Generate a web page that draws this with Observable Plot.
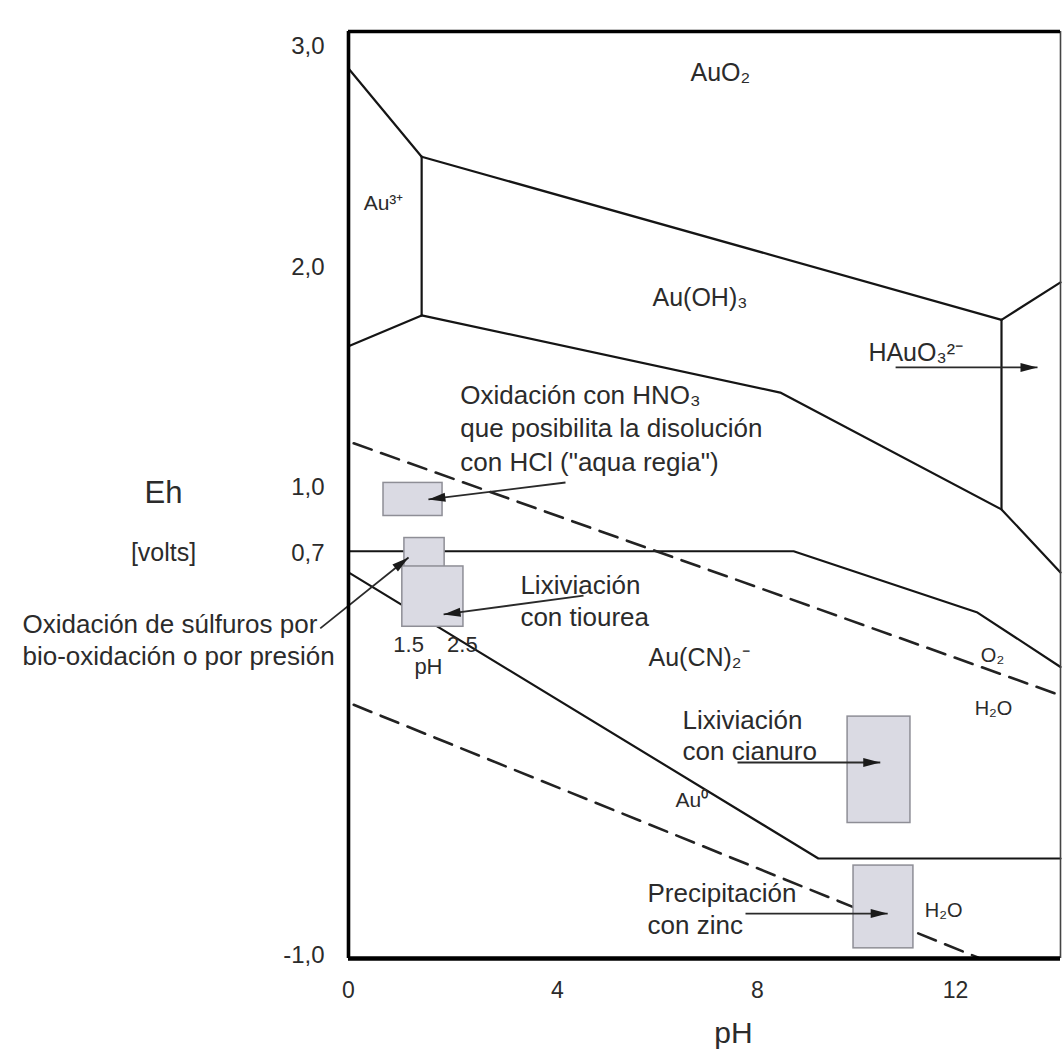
<!DOCTYPE html>
<html>
<head>
<meta charset="utf-8">
<script src="https://cdn.jsdelivr.net/npm/d3@7"></script>
<script src="https://cdn.jsdelivr.net/npm/@observablehq/plot@0.6"></script>
<style>
  html, body { margin: 0; padding: 0; background: #ffffff; }
  #chart svg { display: block; }
</style>
</head>
<body>
<div id="chart"></div>
<script>
// ---------- axes ----------
const pHTicks = [0, 4, 8, 12];
const ehTicks = [3.0, 2.0, 1.0, 0.7, -1.0];
const pHBreaks = [0, 4, 8, 12, 14.1];      // the drawing is schematic: not evenly spaced
const ehBreaks = [-1.013, 0.7, 3.068];

// ---------- stability-field boundaries [pH, Eh] ----------
const au3_auo2    = [[0, 2.90], [1.4, 2.50]];
const au3_auoh3   = [[1.4, 2.50], [1.4, 1.78]];
const auo2_auoh3  = [[1.4, 2.50], [12.92, 1.76]];
const auo2_hauo3  = [[12.92, 1.76], [14.1, 1.93]];
const auoh3_hauo3 = [[12.92, 1.76], [12.92, 0.90]];
const au3_lower   = [[0, 1.64], [1.4, 1.78]];
const auoh3_lower = [[1.4, 1.78], [8.46, 1.43], [12.92, 0.90], [14.1, 0.62]];
const aucn_upper  = [[0, 0.71], [8.73, 0.71], [12.44, 0.45], [14.1, 0.22]];
const au0_aucn    = [[0, 0.62], [9.23, -0.59], [14.1, -0.59]];

// ---------- water stability limits (dashed) ----------
const o2_h2o = [[0.1, 1.20], [14.1, 0.10]];
const h2o_h2 = [[0.1, 0.06], [12.46, -1.01]];

// ---------- process windows ----------
const windowNames = ["HNO3", "bio-oxidación", "tiourea", "cianuro", "zinc"];
const windowPH1 = [0.67, 1.07, 1.03, 9.82, 9.94];
const windowPH2 = [1.80, 1.84, 2.20, 11.09, 11.15];
const windowEh1 = [0.87, 0.64, 0.39, -0.44, -0.97];
const windowEh2 = [1.02, 0.77, 0.645, 0.01, -0.62];

// ---------- arrows (from -> to) ----------
const arrowPH1 = [4.16, -0.54, 4.52, 7.6, 7.76, 10.79];
const arrowEh1 = [1.022, 0.383, 0.522, -0.184, -0.823, 1.544];
const arrowPH2 = [1.53, 1.15, 1.82, 10.48, 10.63, 13.64];
const arrowEh2 = [0.945, 0.683, 0.442, -0.184, -0.823, 1.544];

// ---------- labels ----------
const speciesLabels = ["AuO₂", "Au(OH)₃", "HAuO₃²⁻", "Au(CN)₂⁻"];
const speciesPH = [6.66, 5.9, 10.24, 5.82];
const speciesEh = [2.88, 1.86, 1.61, 0.256];

const smallLabels = ["Au³⁺", "Au⁰"];
const smallPH = [0.29, 6.36];
const smallEh = [2.29, -0.345];

const waterLabels = ["O₂", "H₂O", "H₂O"];
const waterPH = [12.74, 12.76, 11.76];
const waterEh = [0.269, 0.044, -0.81];

const noteLines = [
  "Oxidación con HNO₃", "que posibilita la disolución", "con HCl (\"aqua regia\")",
  "Lixiviación", "con tiourea",
  "Oxidación de súlfuros por", "bio-oxidación o por presión",
  "Lixiviación", "con cianuro",
  "Precipitación", "con zinc"
];
const notePH = [2.14, 2.14, 2.14, 3.29, 3.29, -6.24, -6.24, 6.5, 6.5, 5.8, 5.8];
const noteEh = [1.417, 1.267, 1.113, 0.565, 0.429, 0.40, 0.264, -0.006, -0.138, -0.738, -0.874];

const pHRangeLabels = ["1.5", "2.5", "pH"];
const pHRangePH = [1.15, 2.18, 1.53];
const pHRangeEh = [0.311, 0.311, 0.218];

// ---------- layout ----------
const W = 1062, H = 1055;
const mL = 348, mR = 2, mT = 31, mB = 97;
// schematic warping: breakpoints -> evenly spaced drawing units
const pHWarp = d3.scaleLinear(pHBreaks, [0, 4.18, 8.18, 12.14, 14.24]);
const ehWarp = d3.scaleLinear(ehBreaks, [-1.1375, 0.7, 3.068]);

const solid = {au3_auo2, au3_auoh3, auo2_auoh3, auo2_hauo3, auoh3_hauo3, au3_lower, auoh3_lower, aucn_upper, au0_aucn};
const solidRows = Object.entries(solid).flatMap(([id, pts]) => pts.map(([x, y]) => ({id, x, y})));
const dashed = {o2_h2o, h2o_h2};
const dashedRows = Object.entries(dashed).flatMap(([id, pts]) => pts.map(([x, y]) => ({id, x, y})));
const windows = windowNames.map((n, i) => ({n, x1: windowPH1[i], x2: windowPH2[i], y1: windowEh1[i], y2: windowEh2[i]}));
const arrowsRaw = arrowPH1.map((_, i) => ({x1: arrowPH1[i], y1: arrowEh1[i], x2: arrowPH2[i], y2: arrowEh2[i]}));
const headSymbol = {draw(ctx) { ctx.moveTo(0, 0); ctx.lineTo(-4.5, 17); ctx.lineTo(4.5, 17); ctx.closePath(); }};
const zip = (t, x, y) => t.map((s, i) => ({t: s, x: x[i], y: y[i]}));
const ink = "#2b2b2b";

function build(arrows) {
  return Plot.plot({
    width: W, height: H,
    marginLeft: mL, marginRight: mR, marginTop: mT, marginBottom: mB,
    x: {type: "linear", transform: pHWarp, domain: [pHWarp(0), pHWarp(14.1)]},
    y: {type: "linear", transform: ehWarp, domain: [ehWarp(-1.013), ehWarp(3.068)]},
    style: {fontFamily: "'Liberation Sans', Arial, sans-serif", fontSize: "24px", color: ink, background: "#ffffff"},
    marks: [
      Plot.line(solidRows, {x: "x", y: "y", z: "id", stroke: "#151515", strokeWidth: 2.2}),
      Plot.line(dashedRows, {x: "x", y: "y", z: "id", stroke: "#222", strokeWidth: 2.6, strokeDasharray: "19,10"}),
      Plot.rect(windows, {x1: "x1", x2: "x2", y1: "y1", y2: "y2", fill: "#dadae3", stroke: "#8e8e96", strokeWidth: 1.5}),
      Plot.link(arrows, {x1: "x1", y1: "y1", x2: "x2", y2: "y2", stroke: "#2a2a2a", strokeWidth: 1.8}),
      Plot.dot(arrows, {x: "x2", y: "y2", rotate: "rot", symbol: headSymbol, fill: "#1a1a1a", stroke: "none", r: 5}),
      Plot.ruleX([14.1], {stroke: "#444", strokeWidth: 1.6}),
      Plot.ruleX([0], {stroke: "#000", strokeWidth: 3.6}),
      Plot.ruleY([ehBreaks[2]], {stroke: "#000", strokeWidth: 3.6}),
      Plot.ruleY([ehBreaks[0]], {stroke: "#000", strokeWidth: 4.6}),
      // axis ticks are given in warped drawing units and labelled with the real value
      Plot.axisY({ticks: ehTicks.map(ehWarp), tickSize: 0, tickPadding: 24, fontSize: 24, label: null,
        tickFormat: d => ehWarp.invert(d).toFixed(1).replace(".", ","), fill: ink}),
      Plot.axisX({ticks: pHTicks.map(pHWarp), tickSize: 0, tickPadding: 23, fontSize: 23, label: null,
        tickFormat: d => String(Math.round(pHWarp.invert(d))), fill: ink}),
      Plot.text(zip(speciesLabels, speciesPH, speciesEh), {x: "x", y: "y", text: "t", fontSize: 25, textAnchor: "start", fill: ink}),
      Plot.text(zip(smallLabels, smallPH, smallEh), {x: "x", y: "y", text: "t", fontSize: 21, textAnchor: "start", fill: ink}),
      Plot.text(zip(waterLabels, waterPH, waterEh), {x: "x", y: "y", text: "t", fontSize: 20, textAnchor: "middle", fill: ink}),
      Plot.text(zip(noteLines, notePH, noteEh), {x: "x", y: "y", text: "t", fontSize: 26, textAnchor: "start", fill: ink}),
      Plot.text(zip(pHRangeLabels, pHRangePH, pHRangeEh), {x: "x", y: "y", text: "t", fontSize: 22, textAnchor: "middle", fill: ink}),
      Plot.text(["Eh"], {x: -3.54, y: 0.972, text: d => d, fontSize: 31, textAnchor: "middle", fill: ink}),
      Plot.text(["[volts]"], {x: -3.54, y: 0.70, text: d => d, fontSize: 25, textAnchor: "middle", fill: ink}),
      Plot.text(["pH"], {x: 7.52, y: -1.33, text: d => d, fontSize: 30, textAnchor: "middle", fill: ink})
    ]
  });
}

// first pass to read the scales, then orient the arrowheads in screen space
const probe = build(arrowsRaw.map(a => ({...a, rot: 0})));
const X = probe.scale("x"), Y = probe.scale("y");
const arrows = arrowsRaw.map(a => {
  const dx = X.apply(a.x2) - X.apply(a.x1);
  const dy = Y.apply(a.y2) - Y.apply(a.y1);
  return {...a, rot: Math.atan2(dy, dx) * 180 / Math.PI + 90};
});
document.getElementById("chart").append(build(arrows));
</script>
</body>
</html>
